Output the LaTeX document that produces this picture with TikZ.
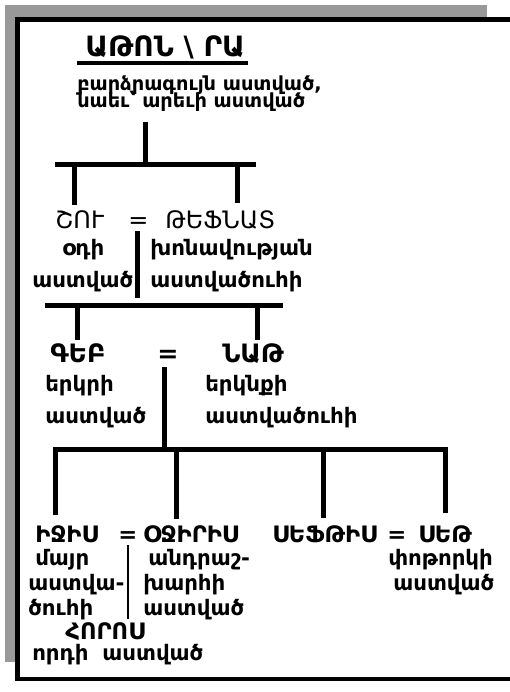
\documentclass[tikz,border=0pt]{standalone}
\usepackage{fontspec}
\setmainfont{DejaVu Sans}
\definecolor{shadowgray}{RGB}{153,153,153}
\begin{document}
\begin{tikzpicture}[x=0.75pt,y=-0.75pt,
  lbl/.style={font=\bfseries\fontsize{16}{16}\selectfont, inner sep=0, anchor=base west},
  sublbl/.style={font=\bfseries\fontsize{14.5}{14.5}\selectfont, inner sep=0, anchor=base west},
  namelbl/.style={font=\bfseries\fontsize{17}{17}\selectfont, inner sep=0, anchor=base west},
  bigname/.style={font=\bfseries\fontsize{19}{19}\selectfont, inner sep=0, anchor=base west},
  lightname/.style={font=\fontsize{18}{18}\selectfont, inner sep=0, anchor=base west},
  titlelbl/.style={font=\bfseries\fontsize{21}{21}\selectfont, inner sep=0, anchor=base west},
  bar/.style={line width=3.75pt},
  thinbar/.style={line width=1.5pt}]
\useasboundingbox (0,0) rectangle (510,692);
\fill[white] (0,0) rectangle (510,692);
% shadow and frame
\fill[shadowgray] (5,5) rectangle (487,662);
\fill[white] (17.5,19.5) rectangle (512,679);
\draw[line width=3.75pt] (15,19.5) -- (512,19.5);
\draw[line width=3.75pt] (17.5,17) -- (17.5,681);
\draw[line width=3pt] (15,679) -- (512,679);
% title
\node[titlelbl] (title) at (85,57) {ԱԹՈՆ \textbackslash{} ՐԱ};
\coordinate (ulL) at (77,63);
\coordinate (ulR) at (248,63);
\draw[line width=3pt] (ulL) -- (ulR);
\node[sublbl] (sub1) at (77,90) {բարձրագույն աստված,};
\node[sublbl] (sub2) at (77,108) {նաեւ՝ արեւի աստված};
% level 1
\node[lightname] (shu) at (55,228) {ՇՈՒ};
\node[lightname] (eq1) at (128,228) {=};
\node[lightname] (tefnut) at (165,228) {ԹԵՖՆԱՏ};
\node[lbl] (odi) at (62,255) {օդի};
\node[lbl] (astvac1) at (32,287) {աստված};
\node[lbl] (xonav) at (150,255) {խոնավության};
\node[lbl] (astvacuhi1) at (150,287) {աստվածուհի};
% level 2
\node[bigname] (geb) at (50,362) {ԳԵԲ};
\node[bigname] (eq2) at (157,362) {=};
\node[bigname] (nut) at (222,362) {ՆԱԹ};
\node[lbl] (erkri) at (45,391) {երկրի};
\node[lbl] (astvac2) at (45,423) {աստված};
\node[lbl] (erknqi) at (205,391) {երկնքի};
\node[lbl] (astvacuhi2) at (205,423) {աստվածուհի};
% level 3
\node[namelbl] (isis) at (35,542) {ԻՋԻՍ};
\node[namelbl] (eq3) at (118,542) {=};
\node[namelbl] (osiris) at (143,542) {ՕՋԻՐԻՍ};
\node[namelbl] (neft) at (272,542) {ՍԵՖԹԻՍ};
\node[namelbl] (eq4) at (387,542) {=};
\node[namelbl] (set) at (418,542) {ՍԵԹ};
\node[lbl] (mayr) at (35,565) {մայր};
\node[lbl] (astva) at (28,590) {աստվա-};
\node[lbl] (cuhi) at (28,615) {ծուհի};
\node[lbl] (andr) at (148,565) {անդրաշ-};
\node[lbl] (xarhi) at (143,590) {խարհի};
\node[lbl] (astvac4) at (143,615) {աստված};
\node[lbl] (potork) at (388,565) {փոթորկի};
\node[lbl] (astvac3) at (393,590) {աստված};
\node[namelbl] (horos) at (65,639) {ՀՈՐՈՍ};
\node[lbl] (ordi) at (32,660) {որդի\hspace{0.3em} աստված};
% connectors
\coordinate (v0t) at (145,122);
\coordinate (b1l) at (55,164.5);
\coordinate (b1r) at (256,164.5);
\draw[bar] (v0t) -- (v0t|-b1l);
\draw[bar] (b1l) -- (b1r);
\coordinate (d1a) at (74.5,205);
\coordinate (d1b) at (237.5,203);
\draw[bar] (d1a|-b1l) -- (d1a);
\draw[bar] (d1b|-b1l) -- (d1b);
\coordinate (v1t) at (137.5,231);
\coordinate (v1b) at (137.5,298);
\draw[bar] (v1t) -- (v1b);
\coordinate (b2l) at (45,305.5);
\coordinate (b2r) at (283,305.5);
\draw[bar] (b2l) -- (b2r);
\coordinate (d2a) at (77.5,340);
\coordinate (d2b) at (257.5,340);
\draw[bar] (d2a|-b2l) -- (d2a);
\draw[bar] (d2b|-b2l) -- (d2b);
\coordinate (v2t) at (164,367);
\coordinate (v2b) at (164,447);
\draw[bar] (v2t) -- (v2b);
\coordinate (b3l) at (53,449.5);
\coordinate (b3r) at (448,449.5);
\draw[bar] (b3l) -- (b3r);
\coordinate (d3a) at (55.5,515);
\coordinate (d3b) at (176.5,519);
\coordinate (d3c) at (323.5,518);
\coordinate (d3d) at (445.5,513);
\foreach \d in {d3a,d3b,d3c,d3d} \draw[bar] (\d|-b3l) -- (\d);
\coordinate (v3t) at (128,545);
\coordinate (v3b) at (128,619);
\draw[thinbar] (v3t) -- (v3b);
\end{tikzpicture}
\end{document}
